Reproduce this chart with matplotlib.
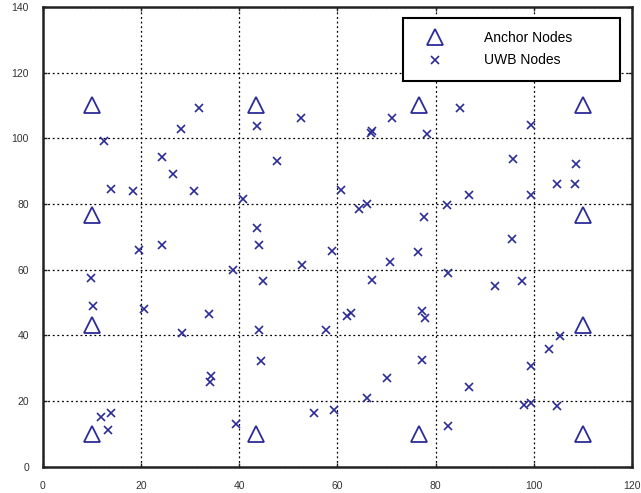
import matplotlib.pyplot as plt

plt.rcParams['font.family'] = ['Liberation Sans', 'DejaVu Sans']

# anchor grid around the perimeter
anchor_x = [10, 43.3, 76.7, 110, 10, 110, 10, 110, 10, 43.3, 76.7, 110]
anchor_y = [110, 110, 110, 110, 76.7, 76.7, 43.3, 43.3, 10, 10, 10, 10]

uwb_x = [12.5, 13.9, 18.3, 24.3, 26.4, 28.1, 31.8, 30.8, 40.7, 43.7,
         52.5, 47.7, 43.6, 44.0, 24.3, 19.6, 9.8, 10.1, 20.6, 28.4,
         33.8, 38.7, 34.2, 34.0, 39.3, 11.9, 13.9, 13.2, 44.0, 44.8,
         44.4, 52.8, 55.2, 57.6, 58.9, 70.7, 76.4, 82.6, 92.0, 97.5,
         67.0, 62.0, 62.7, 77.2, 77.9, 105.3, 103.0, 99.5, 77.2, 70.1,
         66.1, 59.3, 86.7, 97.9, 99.5, 104.7, 82.6, 95.5, 85.0, 71.1,
         66.8, 67.1, 78.2, 99.5, 95.8, 108.6, 104.7, 108.4, 86.7, 99.5,
         60.7, 64.4, 66.1, 82.3, 77.6]
uwb_y = [99.3, 84.6, 84.1, 94.2, 89.1, 102.7, 109.2, 84.1, 81.6, 103.7,
         106.3, 93.1, 72.6, 67.6, 67.6, 66.0, 57.5, 48.9, 47.9, 40.8,
         46.4, 60.0, 27.7, 25.7, 13.2, 15.3, 16.3, 11.2, 41.8, 56.5,
         32.3, 61.5, 16.3, 41.8, 65.6, 62.5, 65.3, 59.0, 54.9, 56.5,
         57.0, 45.9, 46.9, 47.4, 45.4, 39.9, 35.8, 30.8, 32.4, 27.2,
         20.9, 17.4, 24.2, 18.9, 19.3, 18.4, 12.3, 69.4, 109.2, 106.3,
         101.5, 102.3, 101.2, 104.1, 93.7, 92.1, 86.1, 86.1, 82.7, 82.7,
         84.2, 78.5, 80.1, 79.6, 76.0]

xticks = [0, 20, 40, 60, 80, 100, 120]
yticks = [0, 20, 40, 60, 80, 100, 120, 140]

blue = '#2c2c98'

fig = plt.figure(figsize=(6.41, 4.93), dpi=100)
ax = fig.add_axes([0.067, 0.053, 0.919, 0.933])

ax.plot(anchor_x, anchor_y, linestyle='none', marker='^', markersize=11,
        markerfacecolor='none', markeredgecolor=blue, markeredgewidth=1.3,
        label='Anchor Nodes')
ax.plot(uwb_x, uwb_y, linestyle='none', marker='x', markersize=5.5,
        color=blue, markeredgewidth=1.2, label='UWB Nodes')

ax.set_xlim(0, 120)
ax.set_ylim(0, 140)
ax.set_xticks(xticks)
ax.set_yticks(yticks)
ax.grid(True, color='black', linestyle=(0, (1.5, 2.2)), linewidth=0.9)
ax.tick_params(direction='in', length=3, width=1, top=True, right=True,
               labelsize=7.5, labelcolor='#333333', pad=10, color='#222222')
for sp in ax.spines.values():
    sp.set_linewidth(1.8)
    sp.set_color('#222222')

leg = ax.legend(loc='upper left', bbox_to_anchor=(0.611, 0.976, 0.369, 0.0),
                mode='expand', borderaxespad=0, fancybox=False, framealpha=1,
                fontsize=10, handlelength=2.66, handletextpad=2.2,
                labelspacing=0.6, borderpad=0.95)
leg.get_frame().set_edgecolor('black')
leg.get_frame().set_linewidth(1.5)

fig.savefig('out.png', dpi=100)
